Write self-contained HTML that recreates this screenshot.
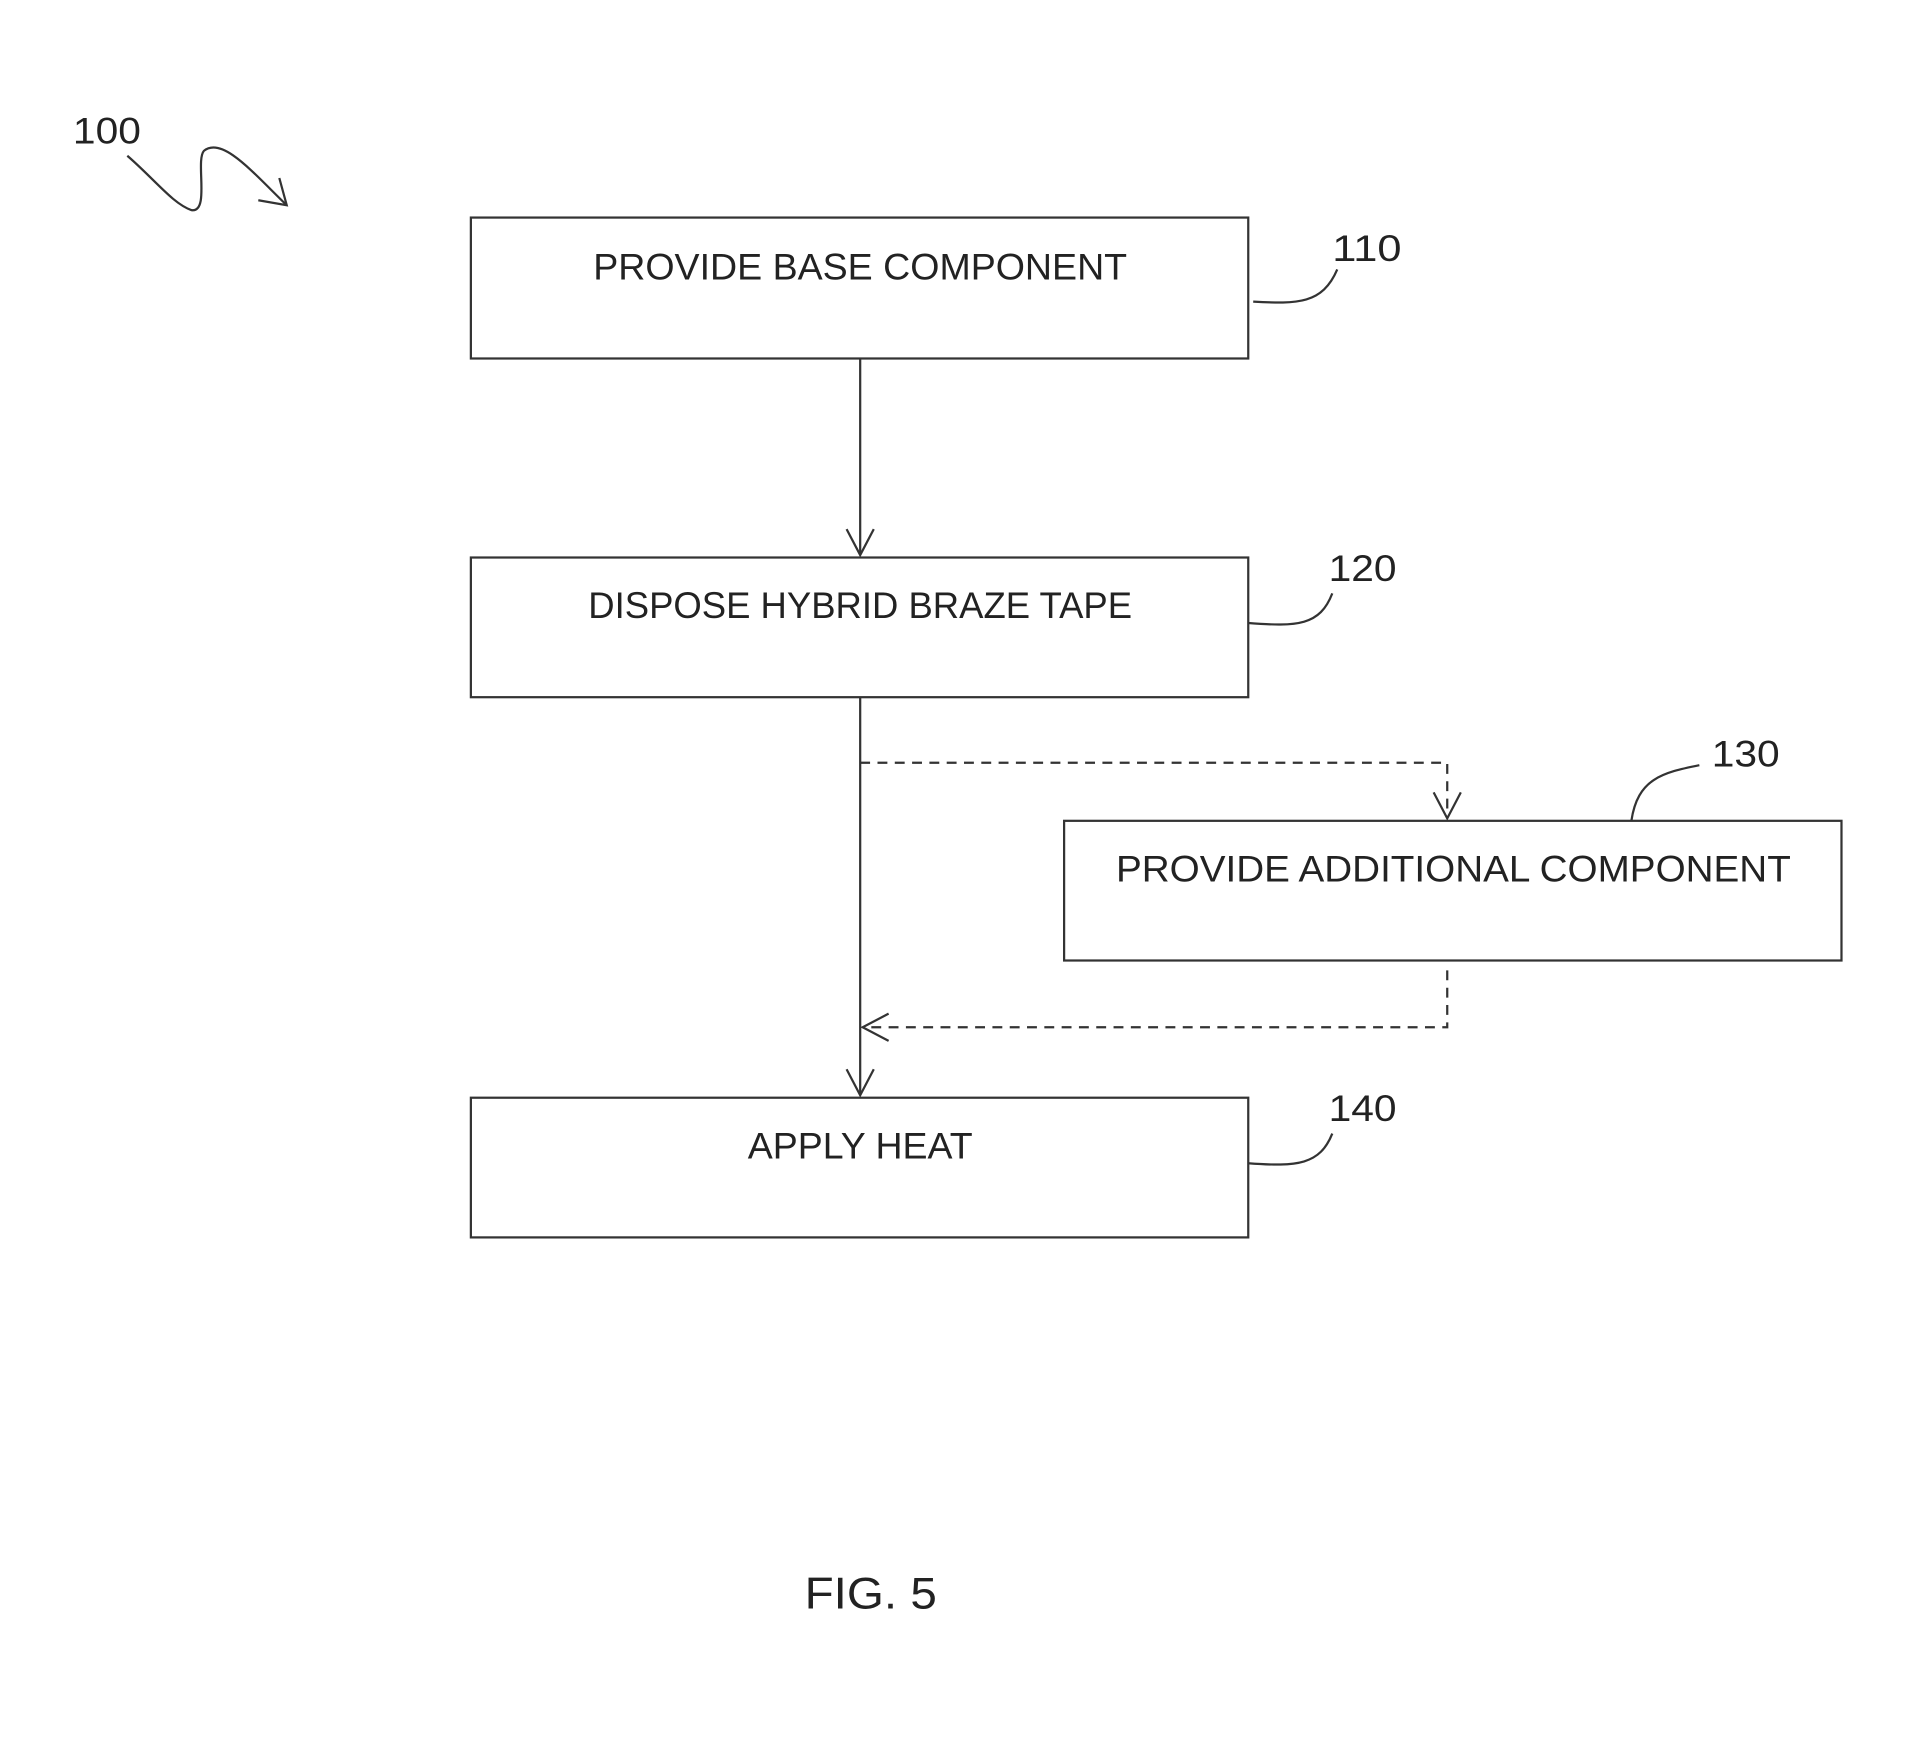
<!DOCTYPE html>
<html><head><meta charset="utf-8"><style>html,body{margin:0;padding:0;background:#fff}svg{display:block}</style></head>
<body>
<svg width="1928" height="1743" viewBox="0 0 1560 1410" preserveAspectRatio="none" xmlns="http://www.w3.org/2000/svg">
<g fill="none" stroke="#333" stroke-width="1.8">
<rect x="381" y="176" width="629" height="114"/>
<rect x="381" y="451" width="629" height="113"/>
<rect x="861" y="664" width="629" height="113"/>
<rect x="381" y="888" width="629" height="113"/>
<line x1="696" y1="290" x2="696" y2="449"/>
<polyline points="685,428 696,449 707,428"/>
<line x1="696" y1="564" x2="696" y2="886"/>
<polyline points="685,865 696,886 707,865"/>
<polyline points="696,617 1171,617 1171,662" stroke-dasharray="8,6"/>
<polyline points="1160,641 1171,662 1182,641"/>
<polyline points="1171,785 1171,831 698,831" stroke-dasharray="8,6"/>
<polyline points="719,820 698,831 719,842"/>
<path d="M1014,244 C1050,246 1070,246 1082,218"/>
<path d="M1010,504 C1050,507 1068,506 1078,480"/>
<path d="M1010,941 C1050,944 1068,942 1078,917"/>
<path d="M1320,664 C1325,630 1345,625 1375,619"/>
<path d="M103,126 C125,145 140,165 155,170 C170,172 158,130 165,122 C180,110 205,140 232,166"/>
<polyline points="209,162 232,166 226,144"/>
</g>
<g font-family="'Liberation Sans',sans-serif" fill="#222" font-size="30">
<text x="696" y="226" text-anchor="middle" textLength="432" lengthAdjust="spacingAndGlyphs">PROVIDE BASE COMPONENT</text>
<text x="696" y="500" text-anchor="middle" textLength="440" lengthAdjust="spacingAndGlyphs">DISPOSE HYBRID BRAZE TAPE</text>
<text x="1176" y="713" text-anchor="middle" textLength="546" lengthAdjust="spacingAndGlyphs">PROVIDE ADDITIONAL COMPONENT</text>
<text x="696" y="937" text-anchor="middle" textLength="182" lengthAdjust="spacingAndGlyphs">APPLY HEAT</text>
<text x="1078" y="211" textLength="56" lengthAdjust="spacingAndGlyphs">110</text>
<text x="1075" y="470" textLength="55" lengthAdjust="spacingAndGlyphs">120</text>
<text x="1385" y="620" textLength="55" lengthAdjust="spacingAndGlyphs">130</text>
<text x="1075" y="907" textLength="55" lengthAdjust="spacingAndGlyphs">140</text>
<text x="59" y="116" textLength="55" lengthAdjust="spacingAndGlyphs">100</text>
<text x="651" y="1301" font-size="36" textLength="107" lengthAdjust="spacingAndGlyphs">FIG. 5</text>
</g>
</svg>
</body></html>
